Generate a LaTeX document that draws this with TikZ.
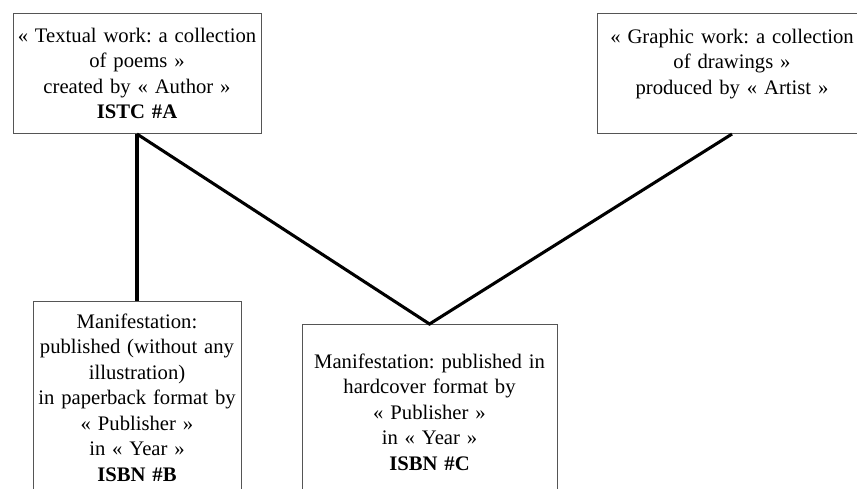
\documentclass[tikz,border=0pt]{standalone}
\usepackage{fontspec}
\setmainfont{Liberation Serif}
\usepackage{tikz}
\definecolor{kutuCizgi}{HTML}{555555}
\frenchspacing

\begin{document}
\begin{tikzpicture}[x=0.75pt,y=-0.75pt,
  kutu/.style={draw=kutuCizgi,line width=0.75pt,inner sep=0pt,anchor=north,align=center,
    font=\fontsize{15.5}{19.1}\selectfont},
  bag/.style={line width=2.3pt,line join=miter}]
\useasboundingbox (0,0) rectangle (857,489);
\clip (0,0) rectangle (857,489);
\node[kutu,text width=186pt,text height=21.75pt,text depth=68.25pt] (eserA) at (137,13)
  {«~Textual work: a collection\\ of poems~»\\ created by «~Author~»\\ \textbf{ISTC \#A}};
\node[kutu,text width=202.5pt,text height=22.5pt,text depth=67.5pt] (eserG) at (732,13)
  {«~Graphic work: a collection\\ of drawings~»\\ produced by «~Artist~»};
\node[kutu,text width=156pt,text height=20.25pt,text depth=140pt] (yayinB) at (137,301)
  {Manifestation:\\ published (without any\\ illustration)\\ in paperback format by\\ «~Publisher~»\\ in «~Year~»\\ \textbf{ISBN \#B}};
\node[kutu,text width=191.25pt,text height=33pt,text depth=140pt] (yayinC) at (429.5,324)
  {Manifestation: published in\\ hardcover format by\\ «~Publisher~»\\ in «~Year~»\\ \textbf{ISBN \#C}};
\draw[bag,line width=3pt] (eserA.south) -- (yayinB.north);
\draw[bag] (eserA.south) -- (yayinC.north) -- (eserG.south);
\end{tikzpicture}
\end{document}
